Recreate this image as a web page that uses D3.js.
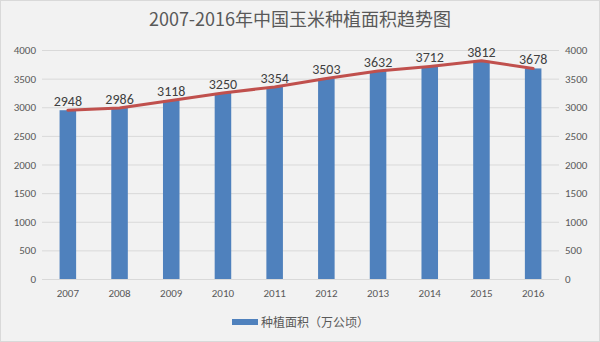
<!DOCTYPE html>
<html>
<head>
<meta charset="utf-8">
<script src="https://cdn.jsdelivr.net/npm/d3@7"></script>
<style>
  html, body { margin: 0; padding: 0; background: #fff; }
  svg { display: block; font-family: "Microsoft YaHei", "Noto Sans CJK SC", "Noto Sans", sans-serif; }
</style>
</head>
<body>
<svg id="chart" width="600" height="342"></svg>
<script>
// Planted area of corn in China, 2007-2016 (10k hectares)
const years = ["2007", "2008", "2009", "2010", "2011", "2012", "2013", "2014", "2015", "2016"];
const area = [2948, 2986, 3118, 3250, 3354, 3503, 3632, 3712, 3812, 3678];
const yTicks = [0, 500, 1000, 1500, 2000, 2500, 3000, 3500, 4000];
const titleText = "2007-2016年中国玉米种植面积趋势图";
const legendText = "种植面积（万公顷）";

(function () {
const W = 600, H = 342;
const svg = d3.select("#chart");

svg.append("rect")
  .attr("x", 0.5).attr("y", 0.5).attr("width", W - 1).attr("height", H - 1)
  .attr("fill", "#f2f2f2").attr("stroke", "#d9d9d9");

const plotL = 42, plotR = 559, plotT = 50, plotB = 279;

const x = d3.scaleBand().domain(years).range([plotL, plotR]).paddingInner(0.68).paddingOuter(0.34);
const y = d3.scaleLinear().domain([0, 4000]).range([plotB, plotT]);

// gridlines
svg.append("g")
  .selectAll("line").data(yTicks).join("line")
  .attr("x1", plotL).attr("x2", plotR)
  .attr("y1", d => y(d) + 0.5).attr("y2", d => y(d) + 0.5)
  .attr("stroke", "#d9d9d9").attr("stroke-width", 1);

const latin = "Calibri, 'Liberation Sans', 'DejaVu Sans', sans-serif";

// left and right value axes
const axisStyle = g => {
  g.select(".domain").remove();
  g.selectAll(".tick line").remove();
  g.selectAll("text").attr("fill", "#595959").style("font-size", "11px")
    .style("font-family", latin);
};
svg.append("g").attr("transform", `translate(${plotL - 6},0)`)
  .call(d3.axisLeft(y).tickValues(yTicks).tickFormat(d3.format("d")).tickSize(0).tickPadding(0))
  .call(axisStyle);
svg.append("g").attr("transform", `translate(${plotR + 6},0)`)
  .call(d3.axisRight(y).tickValues(yTicks).tickFormat(d3.format("d")).tickSize(0).tickPadding(0))
  .call(axisStyle);

// category axis
svg.append("g").attr("transform", `translate(0,${plotB + 6})`)
  .call(d3.axisBottom(x).tickSize(0).tickPadding(4))
  .call(g => {
    g.select(".domain").remove();
    g.selectAll("text").attr("fill", "#595959").style("font-size", "11px")
      .style("font-family", latin);
  });

// bars
svg.append("g").selectAll("rect").data(years).join("rect")
  .attr("x", d => x(d))
  .attr("width", x.bandwidth())
  .attr("y", (d, i) => y(area[i]))
  .attr("height", (d, i) => plotB - y(area[i]))
  .attr("fill", "#4f81bd");

// trend line
const line = d3.line()
  .x((d, i) => x(years[i]) + x.bandwidth() / 2)
  .y(d => y(d));
svg.append("path").datum(area)
  .attr("d", line)
  .attr("fill", "none")
  .attr("stroke", "#c0504d")
  .attr("stroke-width", 3)
  .attr("stroke-linejoin", "round")
  .attr("stroke-linecap", "round");

// value labels
svg.append("g").selectAll("text").data(area).join("text")
  .attr("x", (d, i) => x(years[i]) + x.bandwidth() / 2)
  .attr("y", d => y(d) - 4)
  .attr("text-anchor", "middle")
  .attr("fill", "#404040")
  .style("font-size", "14px")
  .style("font-family", latin)
  .text(d => d);

// title
svg.append("text")
  .attr("x", W / 2).attr("y", 26)
  .attr("text-anchor", "middle")
  .attr("fill", "#595959")
  .style("font-size", "18px")
  .text(titleText);

// legend
const lg = svg.append("g").attr("transform", "translate(232,322)");
lg.append("rect").attr("x", 0).attr("y", -3).attr("width", 26).attr("height", 6).attr("fill", "#4f81bd");
lg.append("text").attr("x", 29).attr("y", 4.5)
  .attr("fill", "#595959").style("font-size", "12px")
  .text(legendText);
})();
</script>
</body>
</html>
